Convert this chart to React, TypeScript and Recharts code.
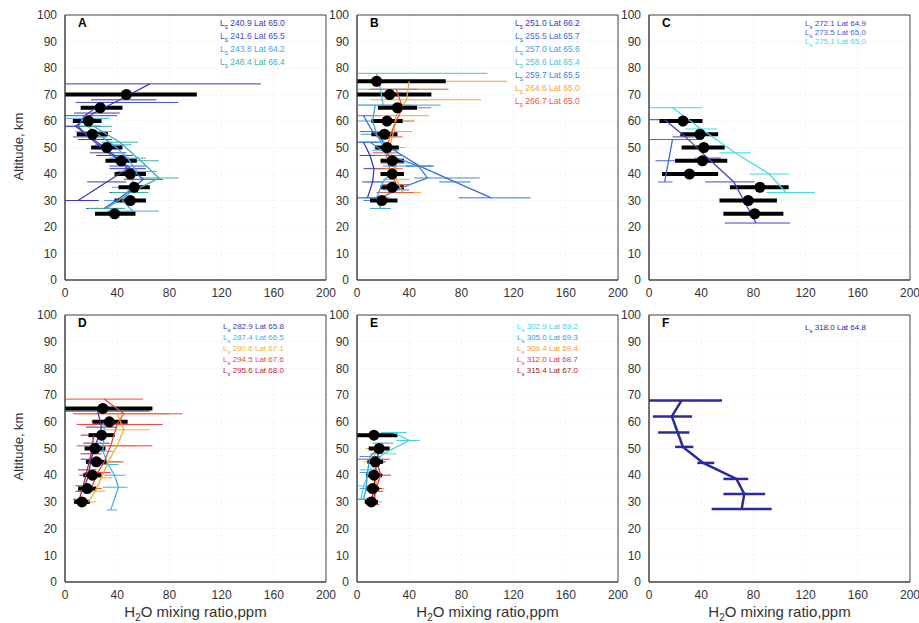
import { ScatterChart, Scatter, XAxis, YAxis, CartesianGrid, ErrorBar, ReferenceArea } from 'recharts';

// rows: [altitude km, H2O ppm, error low, error high]
type Row = [number, number, number, number];

const PPM_TICKS = [0, 40, 80, 120, 160, 200];
const ALT_TICKS = [0, 10, 20, 30, 40, 50, 60, 70, 80, 90, 100];

// panel A
const A_MEAN: Row[] = [[70, 47, 47, 54], [65, 27, 15, 17], [60, 18, 12, 10], [55, 21, 12, 12], [50, 32, 12, 12], [45, 43, 12, 12], [40, 50, 12, 12], [35, 53, 12, 12], [30, 50, 12, 12], [25, 38, 15, 16]];
const A_240_9: Row[] = [[74, 65, 65, 85], [68, 42, 22, 28], [63, 22, 15, 20], [58, 8, 8, 18], [53, 22, 12, 14], [47, 38, 14, 14], [42, 48, 14, 14], [37, 32, 15, 15], [30, 10, 10, 16]];
const A_241_6: Row[] = [[67, 30, 22, 57], [62, 15, 15, 25], [58, 10, 10, 18], [54, 18, 12, 14], [48, 33, 14, 14], [43, 48, 14, 14], [38, 60, 15, 15], [33, 48, 14, 14], [27, 30, 14, 14]];
const A_243_8: Row[] = [[61, 12, 12, 22], [56, 22, 14, 14], [51, 37, 14, 14], [46, 48, 14, 14], [41, 55, 15, 15], [35, 50, 14, 14], [30, 44, 14, 14], [26, 52, 20, 20]];
const A_246_4: Row[] = [[58, 22, 14, 14], [52, 42, 14, 14], [45, 58, 14, 14], [38.5, 72, 15, 15], [33, 50, 14, 14], [27, 32, 14, 14]];

// panel B
const B_MEAN: Row[] = [[75, 15, 15, 53], [70, 25, 25, 32], [65, 31, 15, 15], [60, 23, 12, 12], [55, 21, 10, 10], [50, 23, 9, 9], [45, 27, 9, 9], [40, 27, 9, 9], [35, 27, 9, 9], [30, 19, 9, 12]];
const B_251_0: Row[] = [[52, 5, 5, 12], [47, 10, 8, 8], [42, 13, 8, 8], [37, 12, 8, 8], [31, 8, 8, 8]];
const B_255_5: Row[] = [[62, 5, 5, 14], [56, 12, 10, 12], [50, 25, 10, 10], [43, 48, 10, 10], [37, 75, 12, 12], [31, 103, 25, 30]];
const B_257_0: Row[] = [[66, 14, 14, 50], [60, 12, 12, 18], [55, 15, 12, 12], [49, 22, 10, 10], [43, 30, 10, 10], [37, 20, 10, 10], [31, 15, 10, 10], [27, 18, 8, 8]];
const B_258_6: Row[] = [[78, 15, 15, 85], [72, 18, 18, 28], [66, 20, 20, 22]];
const B_259_7: Row[] = [[52, 10, 8, 10], [47, 25, 10, 10], [43, 47, 10, 12], [38.5, 54, 10, 40], [34, 30, 10, 10], [30, 15, 10, 10]];
const B_264_6: Row[] = [[75, 40, 40, 75], [68, 38, 28, 57], [62, 30, 18, 25], [56, 28, 14, 14], [50, 25, 12, 12], [44, 28, 10, 10], [38, 30, 10, 10], [33, 35, 10, 14]];
const B_266_7: Row[] = [[72, 30, 20, 40], [65, 35, 18, 22], [60, 30, 14, 14], [54, 25, 10, 10], [48, 22, 10, 10], [42, 25, 10, 10], [36, 30, 10, 10], [33, 25, 10, 18]];

// panel C
const C_MEAN: Row[] = [[60, 26, 18, 15], [55, 39, 15, 14], [50, 42, 17, 16], [45, 41, 21, 19], [40, 31, 21, 22], [35, 85, 23, 22], [30, 76, 22, 22], [25, 81, 24, 22]];
const C_272_1: Row[] = [[60.5, 12, 12, 18], [54, 28, 10, 10], [46, 45, 10, 10], [37, 65, 22, 16], [21.5, 82, 24, 26]];
const C_273_5: Row[] = [[53, 18, 18, 23], [45, 15, 10, 10], [37, 12, 5, 6]];
const C_275_1: Row[] = [[65, 18, 18, 23], [57, 40, 12, 12], [48, 66, 12, 12], [40, 92, 15, 15], [33, 105, 15, 22]];

// panel D
const D_MEAN: Row[] = [[65, 29, 29, 38], [60, 34, 13, 14], [55, 28, 10, 10], [50, 23, 8, 8], [45, 24, 8, 8], [40, 21, 7, 7], [35, 17, 7, 7], [30, 13, 6, 6]];
const D_282_9: Row[] = [[64, 25, 25, 40], [58, 28, 12, 12], [52, 24, 10, 10], [46, 20, 8, 8], [40, 18, 7, 7], [34, 14, 6, 6]];
const D_287_4: Row[] = [[60, 30, 10, 10], [55, 30, 8, 8], [49, 29, 8, 8], [44, 33, 8, 8], [40, 38, 8, 8], [35.5, 41, 12, 7], [27, 35, 3, 5]];
const D_290_6: Row[] = [[63, 40, 30, 40], [57, 45, 15, 20], [51, 40, 20, 15], [45, 33, 10, 10], [39, 28, 8, 8], [34, 23, 8, 8], [30, 18, 6, 6]];
const D_294_5: Row[] = [[68.5, 30, 29, 30], [63, 45, 39, 45], [59, 40, 31, 35], [51, 35, 26, 32], [45, 30, 12, 15], [41, 25, 10, 10], [35, 20, 8, 8]];
const D_295_6: Row[] = [[55, 22, 10, 10], [48, 20, 8, 8], [42, 17, 7, 7], [36, 14, 6, 6], [31, 11, 5, 5]];

// panel E
const E_MEAN: Row[] = [[55, 13, 13, 18], [50, 17, 8, 8], [45, 14, 6, 6], [40, 13, 6, 6], [35, 12, 5, 5], [30, 11, 5, 5]];
const E_302_9: Row[] = [[56, 28, 10, 10], [53, 40, 10, 8], [48, 20, 10, 10], [42, 10, 8, 8], [36, 5, 5, 5], [31, 3, 3, 5]];
const E_305_0: Row[] = [[52, 20, 8, 8], [47, 10, 8, 8], [41, 8, 6, 6], [35, 7, 5, 5], [31, 5, 5, 5]];
const E_309_4: Row[] = [[50, 15, 8, 8], [45, 12, 7, 7], [40, 14, 6, 6], [35, 15, 6, 6], [30, 13, 6, 6]];
const E_312_0: Row[] = [[46, 15, 15, 10], [40, 18, 8, 8], [34, 14, 6, 6], [29, 12, 5, 5]];
const E_315_4: Row[] = [[50, 17, 8, 8], [45, 15, 7, 7], [40, 14, 6, 6], [35, 13, 6, 6], [30, 11, 5, 5]];

// panel F
const F_318_0: Row[] = [[68, 25, 25, 31], [62, 17.5, 14.5, 15.5], [56, 22, 15, 9], [50.6, 26, 6, 8], [44.6, 41.5, 4.5, 8.5], [38.6, 67, 10, 9], [33, 73, 16, 16], [27.3, 71, 23, 23]];

type Series = { ls: string; lat: string; color: string; rows: Row[] };

const toPts = (rows: Row[]) => rows.map(([y, x, lo, hi]) => ({ x, y, e: [lo, hi] }));
const noDot = () => <g />;
const bigDot = (p: any) => <circle cx={p.cx} cy={p.cy} r={5.5} fill="#000" />;

const FONT = '"Liberation Sans", Arial, sans-serif';

type PanelProps = {
  left: number;
  top: number;
  plotH: number;
  letter: string;
  series: Series[];
  mean?: Row[];
  thick?: boolean;
  legend: { left: number; top: number; size: number; lh: number };
};

function Panel({ left, top, plotH, letter, series, mean, thick, legend }: PanelProps) {
  const xh = 26;
  const h = 15 + plotH + xh;
  return (
    <div style={{ position: 'absolute', left, top, width: 345, height: h }}>
      <ScatterChart width={345} height={h} margin={{ top: 15, right: 19, bottom: 0, left: 35 }}>
        <CartesianGrid stroke="#e4e4e4" strokeDasharray="1 3" />
        <XAxis type="number" dataKey="x" domain={[0, 200]} ticks={PPM_TICKS} height={xh}
          tickLine={false} axisLine={{ stroke: '#444' }} tick={{ fontSize: 12, fill: '#333', fontFamily: FONT }} />
        <YAxis type="number" dataKey="y" domain={[0, 100]} ticks={ALT_TICKS} width={30}
          tickLine={false} axisLine={{ stroke: '#444' }} tick={{ fontSize: 12, fill: '#333', fontFamily: FONT }} />
        <ReferenceArea x1={0} x2={200} y1={0} y2={100} fill="none" stroke="#444" strokeWidth={1} />
        {series.map((s) => (
          <Scatter key={s.ls} name={s.ls} data={toPts(s.rows)} line={{ stroke: s.color, strokeWidth: thick ? 2.5 : 1.3 }}
            shape={noDot} fill={s.color} isAnimationActive={false}>
            <ErrorBar dataKey="e" direction="x" width={0} stroke={s.color} strokeWidth={thick ? 2.5 : 1} />
          </Scatter>
        ))}
        {mean && (
          <Scatter name="mean" data={toPts(mean)} shape={bigDot} fill="#000" isAnimationActive={false}>
            <ErrorBar dataKey="e" direction="x" width={0} stroke="#000" strokeWidth={4} />
          </Scatter>
        )}
      </ScatterChart>
      <div style={{ position: 'absolute', left: 78, top: 16, fontFamily: FONT, fontWeight: 'bold', fontSize: 12 }}>{letter}</div>
      <div style={{ position: 'absolute', left: legend.left, top: legend.top, fontFamily: FONT, fontSize: legend.size, lineHeight: `${legend.lh}px`, whiteSpace: 'nowrap' }}>
        {series.map((s) => (
          <div key={s.ls} style={{ color: s.color }}>
            L<sub style={{ fontSize: legend.size - 2, verticalAlign: 'sub', lineHeight: 0 }}>s</sub> {s.ls} Lat {s.lat}
          </div>
        ))}
      </div>
    </div>
  );
}

const A_SERIES: Series[] = [
  { ls: '240.9', lat: '65.0', color: '#3b3bb5', rows: A_240_9 },
  { ls: '241.6', lat: '65.5', color: '#3f4fd0', rows: A_241_6 },
  { ls: '243.8', lat: '64.2', color: '#45a8ea', rows: A_243_8 },
  { ls: '246.4', lat: '66.4', color: '#3fb3a0', rows: A_246_4 },
];
const B_SERIES: Series[] = [
  { ls: '251.0', lat: '66.2', color: '#3b3bb5', rows: B_251_0 },
  { ls: '255.5', lat: '65.7', color: '#3a6fd6', rows: B_255_5 },
  { ls: '257.0', lat: '65.6', color: '#3fa2e4', rows: B_257_0 },
  { ls: '258.6', lat: '65.4', color: '#55bfcf', rows: B_258_6 },
  { ls: '259.7', lat: '65.5', color: '#3a86df', rows: B_259_7 },
  { ls: '264.6', lat: '65.0', color: '#f2a735', rows: B_264_6 },
  { ls: '266.7', lat: '65.0', color: '#e8573a', rows: B_266_7 },
];
const C_SERIES: Series[] = [
  { ls: '272.1', lat: '64.9', color: '#4444c8', rows: C_272_1 },
  { ls: '273.5', lat: '65.0', color: '#4466d8', rows: C_273_5 },
  { ls: '275.1', lat: '65.0', color: '#44dddd', rows: C_275_1 },
];
const D_SERIES: Series[] = [
  { ls: '282.9', lat: '65.8', color: '#3b3bb5', rows: D_282_9 },
  { ls: '287.4', lat: '66.5', color: '#45b0ea', rows: D_287_4 },
  { ls: '290.6', lat: '67.1', color: '#f0b030', rows: D_290_6 },
  { ls: '294.5', lat: '67.6', color: '#e84a3a', rows: D_294_5 },
  { ls: '295.6', lat: '68.0', color: '#c02040', rows: D_295_6 },
];
const E_SERIES: Series[] = [
  { ls: '302.9', lat: '69.2', color: '#4ad0e8', rows: E_302_9 },
  { ls: '305.0', lat: '69.3', color: '#3a9ed0', rows: E_305_0 },
  { ls: '309.4', lat: '69.4', color: '#f0a030', rows: E_309_4 },
  { ls: '312.0', lat: '68.7', color: '#e03040', rows: E_312_0 },
  { ls: '315.4', lat: '67.0', color: '#a02030', rows: E_315_4 },
];
const F_SERIES: Series[] = [
  { ls: '318.0', lat: '64.8', color: '#2a2a9c', rows: F_318_0 },
];

const yLabel = (cy: number) => (
  <div style={{ position: 'absolute', left: -82, top: cy - 9, width: 200, textAlign: 'center', transform: 'rotate(-90deg)', fontFamily: FONT, fontSize: 13, color: '#333' }}>
    Altitude, km
  </div>
);
const xLabel = (left: number) => (
  <div style={{ position: 'absolute', left, top: 603, width: 261, textAlign: 'center', fontFamily: FONT, fontSize: 15, color: '#333' }}>
    H<sub style={{ fontSize: 10, lineHeight: 0 }}>2</sub>O mixing ratio,ppm
  </div>
);

export default function App() {
  return (
    <div style={{ position: 'absolute', left: 0, top: 0, width: 919, height: 623, overflow: 'hidden', background: '#fff' }}>
      <Panel left={0} top={0} plotH={265} letter="A" series={A_SERIES} mean={A_MEAN} legend={{ left: 220, top: 17, size: 8.5, lh: 13 }} />
      <Panel left={292} top={0} plotH={265} letter="B" series={B_SERIES} mean={B_MEAN} legend={{ left: 223, top: 17, size: 8.5, lh: 13 }} />
      <Panel left={584} top={0} plotH={265} letter="C" series={C_SERIES} mean={C_MEAN} legend={{ left: 221, top: 19, size: 8, lh: 9 }} />
      <Panel left={0} top={300} plotH={267} letter="D" series={D_SERIES} mean={D_MEAN} legend={{ left: 223, top: 21, size: 8, lh: 11 }} />
      <Panel left={292} top={300} plotH={267} letter="E" series={E_SERIES} mean={E_MEAN} legend={{ left: 225, top: 21, size: 8, lh: 11 }} />
      <Panel left={584} top={300} plotH={267} letter="F" series={F_SERIES} thick legend={{ left: 221, top: 22, size: 8, lh: 11 }} />
      {yLabel(148)}
      {yLabel(448)}
      {xLabel(65)}
      {xLabel(357)}
      {xLabel(649)}
    </div>
  );
}
